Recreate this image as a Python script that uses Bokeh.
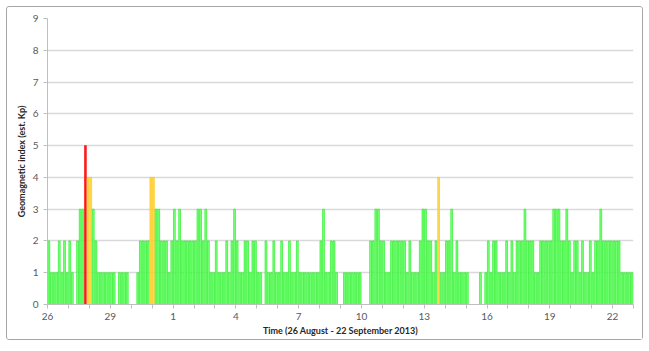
from bokeh.plotting import figure
from bokeh.models import Range1d, FixedTicker, ColumnDataSource
from bokeh.embed import file_html
from bokeh.resources import INLINE

# Estimated 3-hourly Kp, 26 Aug - 22 Sep 2013 (8 values per day)
kp = [
    2, 1, 1, 1, 2, 1, 2, 1,   # 26 Aug
    2, 1, 0, 2, 3, 3, 5, 4,   # 27
    4, 3, 2, 1, 1, 1, 1, 1,   # 28
    1, 1, 0, 1, 1, 1, 1, 0,   # 29
    0, 0, 1, 2, 2, 2, 2, 4,   # 30
    4, 3, 3, 2, 2, 2, 1, 2,   # 31
    3, 2, 3, 2, 2, 2, 2, 2,   # 1 Sep
    2, 3, 3, 2, 3, 2, 1, 1,   # 2
    2, 1, 1, 1, 2, 1, 2, 3,   # 3
    2, 1, 1, 2, 2, 1, 2, 2,   # 4
    1, 1, 0, 2, 1, 1, 2, 1,   # 5
    1, 2, 1, 1, 2, 1, 1, 2,   # 6
    1, 1, 1, 1, 1, 1, 1, 1,   # 7
    2, 3, 1, 1, 2, 2, 1, 0,   # 8
    0, 1, 1, 1, 1, 1, 1, 1,   # 9
    0, 0, 0, 2, 2, 3, 3, 2,   # 10
    2, 1, 1, 2, 2, 2, 2, 2,   # 11
    2, 1, 2, 1, 1, 1, 2, 3,   # 12
    3, 2, 2, 1, 2, 4, 1, 1,   # 13
    2, 2, 3, 1, 2, 1, 1, 1,   # 14
    1, 0, 0, 0, 0, 1, 0, 1,   # 15
    2, 1, 2, 2, 1, 1, 1, 2,   # 16
    1, 2, 1, 2, 2, 2, 3, 2,   # 17
    2, 2, 1, 1, 2, 2, 2, 2,   # 18
    2, 3, 3, 3, 2, 2, 3, 2,   # 19
    1, 2, 2, 1, 2, 1, 1, 2,   # 20
    1, 2, 2, 3, 2, 2, 2, 2,   # 21
    2, 2, 2, 1, 1, 1, 1, 1,   # 22
]
day_labels = ["26", "27", "28", "29", "30", "31", "1", "2", "3", "4", "5", "6", "7",
              "8", "9", "10", "11", "12", "13", "14", "15", "16", "17", "18", "19",
              "20", "21", "22"]
label_every = 3
per_day = 8

n = len(kp)
xs = [i + 0.5 for i in range(n)]

def fill_for(v):
    if v >= 5:
        return "#FF1A1A"
    if v >= 4:
        return "#FFDA55"
    return "#7DFF7D"

def line_for(v):
    if v >= 5:
        return "#FF0000"
    if v >= 4:
        return "#FFC000"
    return "#11EE11"

src = ColumnDataSource(dict(x=xs, top=kp,
                            fill=[fill_for(v) for v in kp],
                            line=[line_for(v) for v in kp]))

p = figure(width=637, height=334, output_backend="svg", toolbar_location=None,
           x_range=Range1d(0, n), y_range=Range1d(0, 9),
           min_border_left=40, min_border_right=11, min_border_top=11,
           min_border_bottom=37)
p.margin = (6, 0, 0, 6)
p.styles = {"border": "1px solid #A6A6A6", "border-radius": "3px"}
p.outline_line_color = None
p.background_fill_color = "white"
p.border_fill_color = "white"

p.vbar(x="x", top="top", bottom=0, width=0.7, source=src,
       fill_color="fill", line_color="line", line_width=0.6)

font = "Lato"
# y axis
p.yaxis.ticker = FixedTicker(ticks=list(range(0, 10)))
p.yaxis.axis_label = "Geomagnetic index (est. Kp)"
p.yaxis.axis_label_text_font = font
p.yaxis.axis_label_text_font_style = "bold"
p.yaxis.axis_label_text_font_size = "9px"
p.yaxis.axis_label_text_color = "#262626"
p.yaxis.axis_label_standoff = 3
p.yaxis.major_label_text_font = font
p.yaxis.major_label_text_font_size = "10px"
p.yaxis.major_label_text_color = "#595959"
p.yaxis.major_label_standoff = 5
p.yaxis.axis_line_color = "#BFBFBF"
p.yaxis.major_tick_line_color = "#BFBFBF"
p.yaxis.major_tick_out = 4
p.yaxis.major_tick_in = 0
p.yaxis.minor_tick_line_color = None

# x axis
p.xaxis.ticker = FixedTicker(ticks=[d * per_day for d in range(len(day_labels) + 1)])
p.xaxis.major_label_overrides = {
    d * per_day: (day_labels[d] if d % label_every == 0 and d < len(day_labels) else "")
    for d in range(len(day_labels) + 1)
}
p.xaxis.axis_label = "Time (26 August - 22 September 2013)"
p.xaxis.axis_label_text_font = font
p.xaxis.axis_label_text_font_style = "bold"
p.xaxis.axis_label_text_font_size = "9px"
p.xaxis.axis_label_text_color = "#262626"
p.xaxis.axis_label_standoff = 2
p.xaxis.major_label_text_font = font
p.xaxis.major_label_text_font_size = "10px"
p.xaxis.major_label_text_color = "#595959"
p.xaxis.major_label_standoff = 4
p.xaxis.axis_line_color = "#BFBFBF"
p.xaxis.major_tick_line_color = "#BFBFBF"
p.xaxis.major_tick_out = 4
p.xaxis.major_tick_in = 0
p.xaxis.minor_tick_line_color = None

p.xgrid.grid_line_color = None
p.ygrid.grid_line_color = "#D9D9D9"
p.ygrid.grid_line_width = 1.5
p.ygrid.ticker = FixedTicker(ticks=list(range(1, 10)))

open("out.html", "w").write(file_html(p, INLINE))
